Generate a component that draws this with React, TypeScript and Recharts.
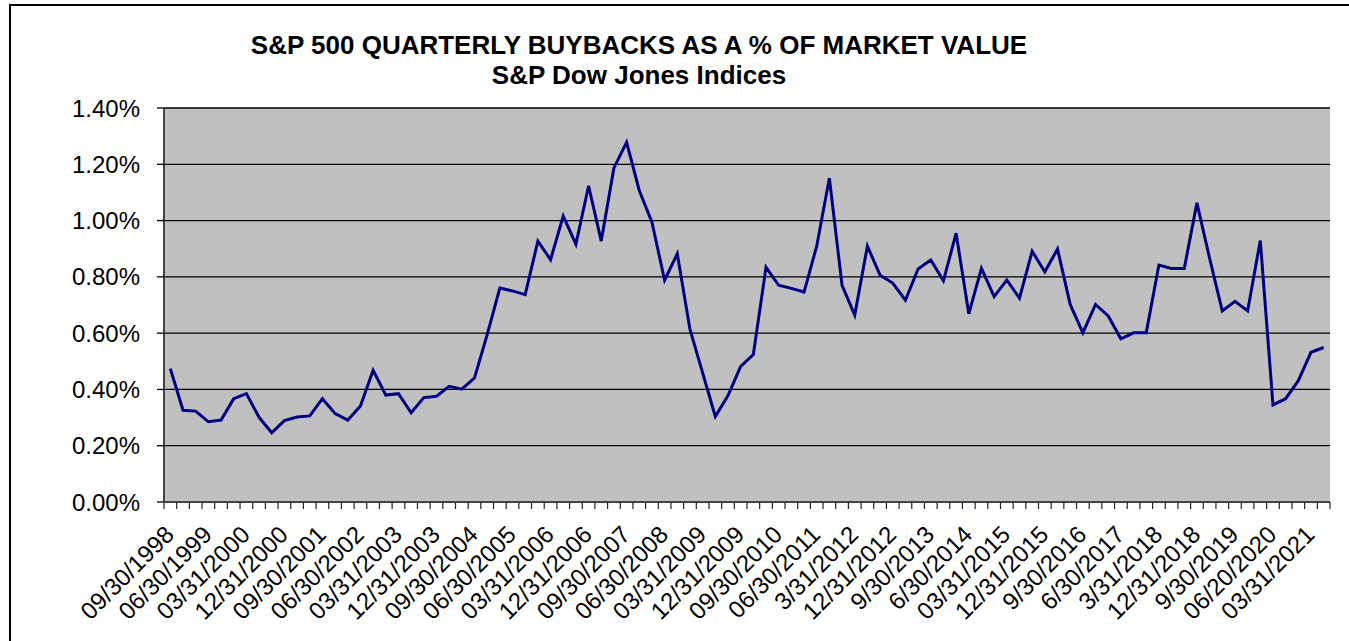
import { LineChart, Line, XAxis, YAxis, CartesianGrid } from "recharts";

// quarter end labels as printed on the source sheet (typos included)
const quarters = [
  "09/30/1998", "12/31/1998", "03/31/1999", "06/30/1999", "09/30/1999", "12/31/1999",
  "03/31/2000", "06/30/2000", "09/30/2000", "12/31/2000", "03/31/2001", "06/30/2001",
  "09/30/2001", "12/31/2001", "03/31/2002", "06/30/2002", "09/30/2002", "12/31/2002",
  "03/31/2003", "06/30/2003", "09/30/2003", "12/31/2003", "03/31/2004", "06/30/2004",
  "09/30/2004", "12/31/2004", "03/31/2005", "06/30/2005", "09/30/2005", "12/31/2005",
  "03/31/2006", "06/30/2006", "09/30/2006", "12/31/2006", "03/31/2007", "06/30/2007",
  "09/30/2007", "12/31/2007", "03/31/2008", "06/30/2008", "09/30/2008", "12/31/2008",
  "03/31/2009", "06/30/2009", "09/30/2009", "12/31/2009", "03/31/2010", "06/30/2010",
  "09/30/2010", "12/31/2010", "03/31/2011", "06/30/2011", "09/30/2011", "12/31/2011",
  "3/31/2012", "6/30/2012", "9/30/2012", "12/31/2012", "3/31/2013", "6/30/2013",
  "9/30/2013", "12/31/2013", "3/31/2014", "6/30/2014", "9/30/2014", "12/31/2014",
  "03/31/2015", "06/30/2015", "09/30/2015", "12/31/2015", "3/31/2016", "6/30/2016",
  "9/30/2016", "12/31/2016", "3/31/2017", "6/30/2017", "9/30/2017", "12/31/2017",
  "3/31/2018", "6/30/2018", "9/30/2018", "12/31/2018", "3/31/2019", "6/30/2019",
  "9/30/2019", "12/31/2019", "03/31/2020", "06/20/2020", "09/30/2020", "12/31/2020",
  "03/31/2021", "06/30/2021",
];

// buybacks as % of market value
const buybackPct = [
  0.474, 0.326, 0.323, 0.285, 0.291, 0.367, 0.385, 0.301, 0.246, 0.289, 0.302, 0.306,
  0.367, 0.314, 0.291, 0.341, 0.468, 0.380, 0.385, 0.317, 0.371, 0.376, 0.411, 0.401,
  0.441, 0.595, 0.760, 0.750, 0.737, 0.927, 0.861, 1.016, 0.916, 1.123, 0.927, 1.187,
  1.278, 1.107, 0.994, 0.788, 0.882, 0.613, 0.459, 0.304, 0.378, 0.482, 0.524, 0.834,
  0.770, 0.759, 0.746, 0.909, 1.151, 0.770, 0.664, 0.909, 0.806, 0.778, 0.717, 0.828,
  0.860, 0.786, 0.955, 0.669, 0.830, 0.730, 0.789, 0.724, 0.891, 0.818, 0.899, 0.702,
  0.601, 0.702, 0.661, 0.580, 0.601, 0.601, 0.842, 0.830, 0.830, 1.063, 0.866, 0.679,
  0.713, 0.679, 0.929, 0.345, 0.367, 0.431, 0.532, 0.549,
];

const yTicks = [0, 0.2, 0.4, 0.6, 0.8, 1.0, 1.2, 1.4];

const data = quarters.map((q, i) => ({ quarter: q, pct: buybackPct[i] }));

const FONT = '"Liberation Sans", Arial, sans-serif';
const PLOT_W = 1166;
const HALF = PLOT_W / quarters.length / 2;

// excel style: tick marks between categories, label every 3rd quarter
function QuarterTick(props: any) {
  const { x, y, payload, index } = props;
  const last = index === quarters.length - 1;
  return (
    <g>
      <line x1={x - HALF} y1={y} x2={x - HALF} y2={y + 7} stroke="#222" strokeWidth={1.2} />
      {last && <line x1={x + HALF} y1={y} x2={x + HALF} y2={y + 7} stroke="#222" strokeWidth={1.2} />}
      {index % 3 === 0 && (
        <text
          x={x + 5}
          y={y + 34}
          textAnchor="end"
          transform={`rotate(-45 ${x + 5} ${y + 34})`}
          fontSize={24}
          fontFamily={FONT}
          fill="#000"
        >
          {payload.value}
        </text>
      )}
    </g>
  );
}

export default function App() {
  return (
    <div
      style={{
        position: "absolute",
        left: 0,
        top: 0,
        width: 1349,
        height: 641,
        overflow: "hidden",
        background: "#fff",
        fontFamily: FONT,
      }}
    >
      <div
        style={{
          position: "absolute",
          left: 9,
          top: 4,
          width: 1400,
          height: 700,
          borderTop: "2px solid #000",
          borderLeft: "2px solid #000",
        }}
      />
      <div
        style={{
          position: "absolute",
          left: 0,
          top: 30,
          width: 1278,
          textAlign: "center",
          fontWeight: "bold",
          fontSize: 26,
          lineHeight: "30px",
          color: "#000",
        }}
      >
        S&amp;P 500 QUARTERLY BUYBACKS AS A % OF MARKET VALUE
        <br />
        S&amp;P Dow Jones Indices
      </div>
      <div style={{ position: "absolute", left: 0, top: 0 }}>
        <LineChart
          width={1349}
          height={641}
          data={data}
          margin={{ top: 108, right: 19, bottom: 9, left: 104 }}
        >
          <CartesianGrid
            vertical={false}
            fill="#C0C0C0"
            stroke="#000"
            strokeWidth={1.3}
            strokeOpacity={1}
          />
          <XAxis
            dataKey="quarter"
            interval={0}
            height={130}
            padding={{ left: HALF, right: HALF }}
            tickLine={false}
            tickSize={0}
            tickMargin={0}
            axisLine={{ stroke: "#444", strokeWidth: 2 }}
            tick={<QuarterTick />}
          />
          <XAxis
            xAxisId="top"
            orientation="top"
            dataKey="quarter"
            height={0}
            tick={false}
            tickLine={false}
            axisLine={{ stroke: "#808080", strokeWidth: 3 }}
          />
          <YAxis
            domain={[0, 1.4]}
            ticks={yTicks}
            width={60}
            tickSize={7}
            tickMargin={17}
            tickLine={{ stroke: "#000", strokeWidth: 1.3 }}
            axisLine={{ stroke: "#444", strokeWidth: 2 }}
            tick={{ fontSize: 24, fontFamily: FONT, fill: "#000" }}
            tickFormatter={(v: number) => `${v.toFixed(2)}%`}
          />
          <YAxis
            yAxisId="right"
            orientation="right"
            domain={[0, 1.4]}
            width={0}
            tick={false}
            tickLine={false}
            axisLine={{ stroke: "#808080", strokeWidth: 3 }}
          />
          <Line
            type="linear"
            dataKey="pct"
            stroke="#000080"
            strokeWidth={3}
            dot={false}
            isAnimationActive={false}
          />
        </LineChart>
      </div>
    </div>
  );
}
